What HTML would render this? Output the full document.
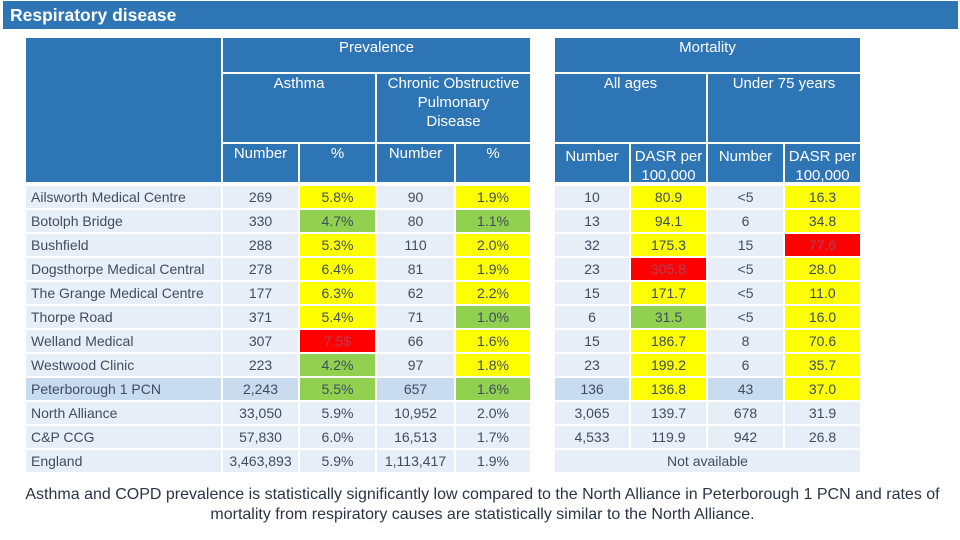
<!DOCTYPE html>
<html><head><meta charset="utf-8"><style>
body{margin:0;width:960px;height:540px;background:#fff;position:relative;overflow:hidden;font-family:"Liberation Sans",sans-serif}
.c{position:absolute;box-sizing:border-box;display:flex;align-items:center;justify-content:center;font-size:14px;color:#3d4d60;white-space:nowrap}
.h{background:#2e75b6;color:#fff;font-size:15px;align-items:flex-start;text-align:center;line-height:19px;padding-top:0px}
#title{position:absolute;left:3px;top:1px;width:955px;height:28px;background:#2e75b6;color:#fff;font-weight:bold;font-size:17.5px;line-height:28px;padding-left:7px;box-sizing:border-box}
#foot{position:absolute;left:0;top:485px;width:965px;text-align:center;font-size:16px;line-height:20px;color:#2a3545}
</style></head><body>
<div id="title">Respiratory disease</div>
<div id="tbl"></div>
<div id="foot">Asthma and COPD prevalence is statistically significantly low compared to the North Alliance in Peterborough 1 PCN and rates of<br>mortality from respiratory causes are statistically similar to the North Alliance.</div>
<script>
const practices=["Ailsworth Medical Centre","Botolph Bridge","Bushfield","Dogsthorpe Medical Central","The Grange Medical Centre","Thorpe Road","Welland Medical","Westwood Clinic","Peterborough 1 PCN","North Alliance","C&P CCG","England"];
const asthmaNum=["269","330","288","278","177","371","307","223","2,243","33,050","57,830","3,463,893"];
const asthmaPct=["5.8%","4.7%","5.3%","6.4%","6.3%","5.4%","7.5$","4.2%","5.5%","5.9%","6.0%","5.9%"];
const copdNum=["90","80","110","81","62","71","66","97","657","10,952","16,513","1,113,417"];
const copdPct=["1.9%","1.1%","2.0%","1.9%","2.2%","1.0%","1.6%","1.8%","1.6%","2.0%","1.7%","1.9%"];
const mortNum=["10","13","32","23","15","6","15","23","136","3,065","4,533",""];
const mortDasr=["80.9","94.1","175.3","305.8","171.7","31.5","186.7","199.2","136.8","139.7","119.9",""];
const u75Num=["<5","6","15","<5","<5","<5","8","6","43","678","942",""];
const u75Dasr=["16.3","34.8","77.6","28.0","11.0","16.0","70.6","35.7","37.0","31.9","26.8",""];
const asthmaFlag=["y","g","y","y","y","y","r","g","g","n","n","n"];
const copdFlag=["y","g","y","y","y","g","y","y","g","n","n","n"];
const mortFlag=["y","y","y","r","y","g","y","y","y","n","n","n"];
const u75Flag=["y","y","r","y","y","y","y","y","y","n","n","n"];
const FL={y:"#ffff00",g:"#92d050",r:"#ff0000"};
const T=document.getElementById('tbl');
function cell(x,y,w,h,txt,cls,bg,name){
  const d=document.createElement('div');
  d.className='c '+(cls||'');
  d.style.left=x+'px';d.style.top=y+'px';d.style.width=w+'px';d.style.height=h+'px';
  if(bg)d.style.background=bg;
  d.innerHTML=txt;
  
  
  T.appendChild(d);return d;
}
cell(26,38,195,144,"","h",null,"row-header-blank");
cell(223,38,307,34,"Prevalence","h",null,"prevalence-header");
cell(555,38,305,34,"Mortality","h",null,"mortality-header");
cell(223,74,152,68,"Asthma","h",null,"asthma-header");
cell(377,74,153,68,"Chronic Obstructive<br>Pulmonary<br>Disease","h",null,"copd-header");
cell(555,74,151,68,"All ages","h",null,"all-ages-header");
cell(708,74,152,68,"Under 75 years","h",null,"under-75-header");
const cols=[[223,75],[300,75],[377,77],[456,74],[555,74],[631,75],[708,75],[785,75]];
const sub=["Number","%","Number","%","Number","DASR per<br>100,000","Number","DASR per<br>100,000"];
sub.forEach((s,i)=>{const d=cell(cols[i][0],144,cols[i][1],38,s,"h",null,"subheader-"+i);d.style.paddingTop=(i>=4?'3px':'0px');});
const series=[asthmaNum,asthmaPct,copdNum,copdPct,mortNum,mortDasr,u75Num,u75Dasr];
const flags=[null,asthmaFlag,null,copdFlag,null,mortFlag,null,u75Flag];
practices.forEach((p,r)=>{
  const y=186+r*24, base=(r===8)?"#c9dcef":"#e8eef8";
  const n=cell(26,y,195,22,p,"",base,"row-label");n.style.justifyContent='flex-start';n.style.paddingLeft='5px';
  series.forEach((s,i)=>{
    if(r===11&&i>=4)return;
    const f=flags[i]?flags[i][r]:"n";
    const bg=(f!=="n")?FL[f]:base;
    const d=cell(cols[i][0],y,cols[i][1],22,s[r].replace('<','&lt;'),"",bg,"value-cell");
    if(f==="r")d.style.color="#b0405a";
  });
  if(r===11)cell(555,y,305,22,"Not available","","#e8eef8","not-available-cell");
});
</script>
</body></html>
